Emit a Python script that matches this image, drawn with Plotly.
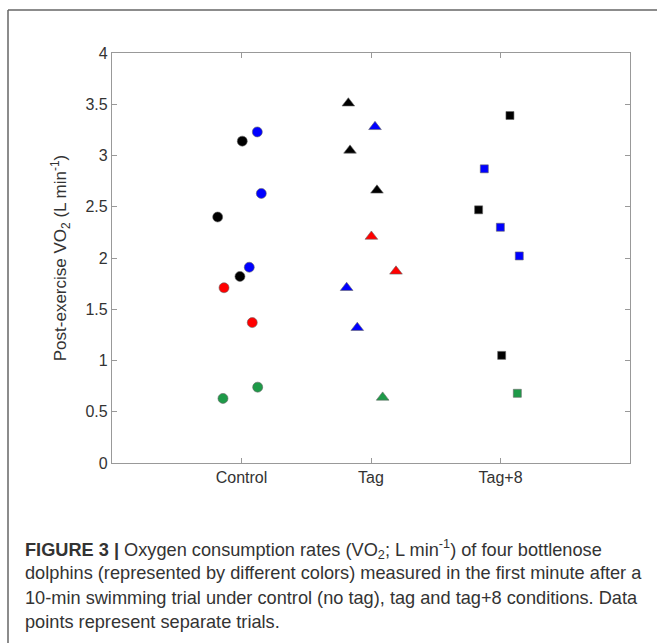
import plotly.graph_objects as go

# Data: (x position, VO2) by condition and dolphin colour
categories = ["Control", "Tag", "Tag+8"]
cat_pos = [1, 2, 3]

colors = {"black": "#000000", "blue": "#0000FF", "red": "#FF0000", "green": "#1E9A48"}

control_black_x = [1.006, 0.816, 0.988]
control_black_y = [3.14, 2.40, 1.82]
control_blue_x = [1.122, 1.153, 1.060]
control_blue_y = [3.23, 2.63, 1.91]
control_red_x = [0.865, 1.083]
control_red_y = [1.71, 1.37]
control_green_x = [0.857, 1.125]
control_green_y = [0.63, 0.74]

tag_black_x = [1.825, 1.838, 2.046]
tag_black_y = [3.51, 3.05, 2.66]
tag_blue_x = [2.031, 1.812, 1.894]
tag_blue_y = [3.28, 1.71, 1.32]
tag_red_x = [2.003, 2.193]
tag_red_y = [2.21, 1.87]
tag_green_x = [2.090]
tag_green_y = [0.64]

tag8_black_x = [3.073, 2.831, 3.009]
tag8_black_y = [3.39, 2.47, 1.05]
tag8_blue_x = [2.875, 2.999, 3.145]
tag8_blue_y = [2.87, 2.30, 2.02]
tag8_green_x = [3.130]
tag8_green_y = [0.68]

series = [
    (control_black_x, control_black_y, "black", "circle", 10),
    (control_blue_x, control_blue_y, "blue", "circle", 10),
    (control_red_x, control_red_y, "red", "circle", 10),
    (control_green_x, control_green_y, "green", "circle", 10),
    (tag_black_x, tag_black_y, "black", "triangle-up", 11),
    (tag_blue_x, tag_blue_y, "blue", "triangle-up", 11),
    (tag_red_x, tag_red_y, "red", "triangle-up", 11),
    (tag_green_x, tag_green_y, "green", "triangle-up", 11),
    (tag8_black_x, tag8_black_y, "black", "square", 8),
    (tag8_blue_x, tag8_blue_y, "blue", "square", 8),
    (tag8_green_x, tag8_green_y, "green", "square", 8),
]

fig = go.Figure()
for xs, ys, c, sym, sz in series:
    fig.add_trace(go.Scatter(
        x=xs, y=ys, mode="markers", showlegend=False,
        marker=dict(color=colors[c], symbol=sym, size=sz,
                    line=dict(color="#666666", width=0.6)),
    ))

W, H = 657, 643
L, R, T, B = 112, 630, 53, 463
pw, ph = R - L, B - T

def px(x):
    return (x - L) / pw

def py(y):
    return (B - y) / ph

FONT = "Liberation Sans, Arial, sans-serif"

fig.update_layout(
    width=W, height=H,
    margin=dict(l=L, r=W - R, t=T, b=H - B, pad=0),
    paper_bgcolor="white", plot_bgcolor="white",
    font=dict(family=FONT, color="#333333"),
    xaxis=dict(range=[0, 4], tickvals=cat_pos, ticktext=categories,
               ticks="inside", ticklen=5, tickcolor="#999999",
               showline=True, linecolor="#999999", linewidth=1.2, mirror="ticks",
               showgrid=False, zeroline=False,
               tickfont=dict(size=16, family=FONT, color="#333333")),
    yaxis=dict(range=[0, 4], tickvals=[0, 0.5, 1, 1.5, 2, 2.5, 3, 3.5, 4],
               ticktext=["0", "0.5", "1", "1.5", "2", "2.5", "3", "3.5", "4"],
               ticks="inside", ticklen=5, tickcolor="#999999",
               showline=True, linecolor="#999999", linewidth=1.2, mirror="ticks",
               showgrid=False, zeroline=False,
               tickfont=dict(size=16, family=FONT, color="#333333"),
               title=dict(text="Post-exercise VO<sub>2</sub> (L min<sup>-1</sup>)",
                          font=dict(size=17, family=FONT, color="#333333"),
                          standoff=14)),
)

# outer figure frame (top and left edges visible)
fig.add_shape(type="line", xref="paper", yref="paper",
              x0=px(8), x1=px(660), y0=py(10), y1=py(10),
              line=dict(color="#666666", width=1.5))
fig.add_shape(type="line", xref="paper", yref="paper",
              x0=px(8), x1=px(8), y0=py(10), y1=py(650),
              line=dict(color="#666666", width=1.5))

caption_lines = [
    "<b>FIGURE 3 |</b> Oxygen consumption rates (VO<sub>2</sub>; L min<sup>-1</sup>) of four bottlenose",
    "dolphins (represented by different colors) measured in the first minute after a",
    "10-min swimming trial under control (no tag), tag and tag+8 conditions. Data",
    "points represent separate trials.",
]
caption_y = [549, 573, 598, 622]
for txt, yy in zip(caption_lines, caption_y):
    fig.add_annotation(text=txt, xref="paper", yref="paper",
                       x=px(23), y=py(yy), xanchor="left", yanchor="middle",
                       showarrow=False, align="left",
                       font=dict(size=18.2, family=FONT, color="#333333"))

fig.write_html("out.html", config={"displayModeBar": False},
               post_script="document.body.style.margin='0';document.body.style.overflow='hidden';")
